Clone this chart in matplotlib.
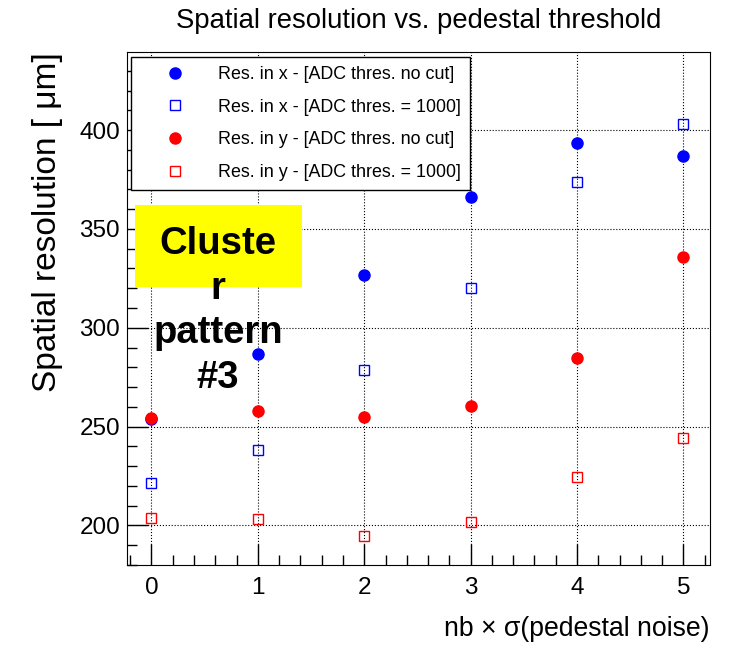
import numpy as np
import matplotlib
matplotlib.use("Agg")
import matplotlib.pyplot as plt
from matplotlib.ticker import MultipleLocator

plt.rcParams['font.family'] = ['Liberation Sans', 'DejaVu Sans']

# threshold in units of pedestal sigma
nb = [0, 1, 2, 3, 4, 5]

# resolutions in um
res_x_nocut = [254, 286.6, 326.6, 366, 393.4, 386.8]
res_x_1000 = [221.3, 238, 278.5, 320, 373.7, 403]
res_y_nocut = [254.2, 257.7, 254.7, 260.3, 284.6, 335.7]
res_y_1000 = [204, 203.5, 194.9, 202, 224.3, 244]

labels = ["Res. in x - [ADC thres. no cut]",
          "Res. in x - [ADC thres. = 1000]",
          "Res. in y - [ADC thres. no cut]",
          "Res. in y - [ADC thres. = 1000]"]

W, H = 732, 646
fig = plt.figure(figsize=(W/100, H/100), dpi=100)
ax = fig.add_axes([127/W, 1-565/H, (710-127)/W, (565-52)/H])

ax.plot(nb, res_x_nocut, 'o', color='blue', ms=8, mec='blue', ls='none', label=labels[0])
ax.plot(nb, res_x_1000, 's', color='blue', mfc='none', ms=7, mew=1, ls='none', label=labels[1])
ax.plot(nb, res_y_nocut, 'o', color='red', ms=8, mec='red', ls='none', label=labels[2])
ax.plot(nb, res_y_1000, 's', color='red', mfc='none', ms=7, mew=1, ls='none', label=labels[3])

ax.set_xlim(-0.23, 5.25)
ax.set_ylim(180, 439.5)

ax.xaxis.set_major_locator(MultipleLocator(1))
ax.xaxis.set_minor_locator(MultipleLocator(0.2))
ax.yaxis.set_major_locator(MultipleLocator(50))
ax.yaxis.set_minor_locator(MultipleLocator(10))
ax.tick_params(which='both', direction='in', top=False, right=False, labelsize=17.5)
ax.tick_params(which='major', length=15, width=1)
ax.tick_params(which='minor', length=7, width=1)
ax.tick_params(axis='x', pad=9)
ax.tick_params(axis='y', pad=5)
ax.grid(True, which='major', ls=':', color='black', lw=0.8)

ax.set_title("Spatial resolution vs. pedestal threshold", fontsize=19.8, pad=17)
ax.set_xlabel("nb \u00d7 \u03c3(pedestal noise)", fontsize=19.2, loc='right', labelpad=12)
ax.set_ylabel("Spatial resolution [ \u03bcm]", fontsize=24, loc='top', labelpad=12)

leg = ax.legend(loc='upper left', bbox_to_anchor=(131/W, 1-57/H), bbox_transform=fig.transFigure,
                fontsize=12.9, frameon=True, fancybox=False, edgecolor='black', framealpha=1,
                handletextpad=0.45, borderpad=0.5, labelspacing=0.88, handlelength=3.9, borderaxespad=0)
leg.get_frame().set_linewidth(1)

fig.text(218/W, 1-311/H, "Cluste\nr\npattern\n#3", fontsize=27.5, fontweight='bold',
         ha='center', va='center', linespacing=1.32, zorder=5)
box = plt.Rectangle((135/W, 1-287/H), (302-135)/W, (287-205)/H, transform=fig.transFigure,
                    facecolor='yellow', edgecolor='none', zorder=4)
fig.patches.append(box)

fig.savefig("out.png", dpi=100)
